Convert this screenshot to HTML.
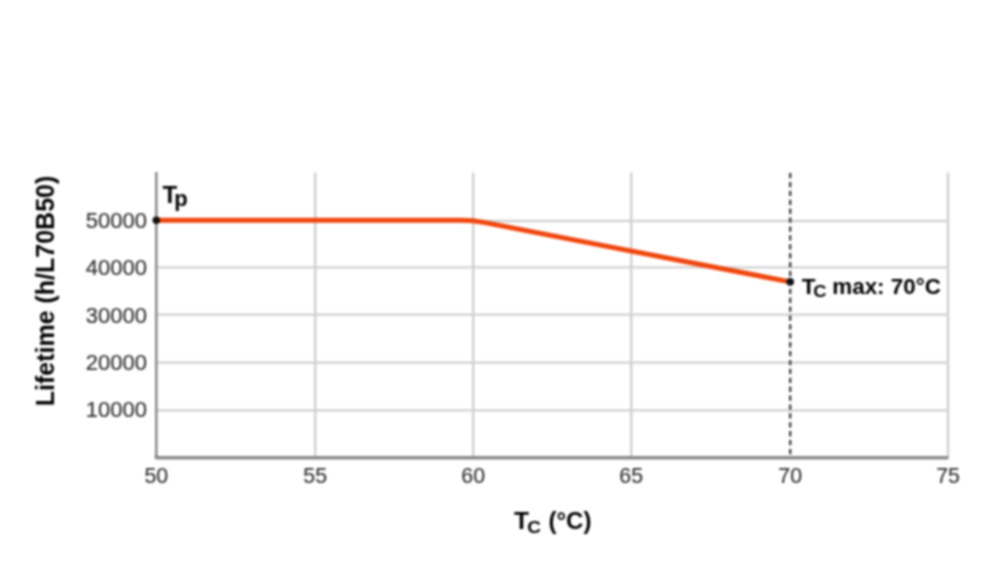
<!DOCTYPE html>
<html><head><meta charset="utf-8">
<style>
html,body{margin:0;padding:0;background:#fff;}
body{width:1000px;height:584px;overflow:hidden;position:relative;}
svg{position:absolute;left:0;top:0;filter:blur(1px);}
text{font-family:"Liberation Sans",sans-serif;}
</style></head><body>
<svg width="1000" height="584" viewBox="0 0 1000 584" xmlns="http://www.w3.org/2000/svg">
  <!-- horizontal gridlines -->
  <g stroke="#d2d2d2" stroke-width="2.3">
    <line x1="156" y1="410.3" x2="948" y2="410.3"/>
    <line x1="156" y1="362.6" x2="948" y2="362.6"/>
    <line x1="156" y1="314.7" x2="948" y2="314.7"/>
    <line x1="156" y1="267.3" x2="948" y2="267.3"/>
    <line x1="156" y1="221" x2="948" y2="221"/>
  </g>
  <!-- vertical gridlines -->
  <g stroke="#cfcfcf" stroke-width="2.4">
    <line x1="315.2" y1="172.5" x2="315.2" y2="457"/>
    <line x1="473.2" y1="172.5" x2="473.2" y2="457"/>
    <line x1="631.2" y1="172.5" x2="631.2" y2="457"/>
    <line x1="948" y1="172.5" x2="948" y2="457"/>
  </g>
  <!-- dashed line at 70 -->
  <line x1="790.2" y1="173" x2="790.2" y2="456" stroke="#3a3a3a" stroke-width="2.3" stroke-dasharray="5.3 3.6"/>
  <!-- axes -->
  <line x1="156.3" y1="172" x2="156.3" y2="456" stroke="#888" stroke-width="2.5"/>
  <path d="M156.3,455 V457.7 H948.5" fill="none" stroke="#8a8a8a" stroke-width="3.4" stroke-linejoin="round"/>
  <!-- data line -->
  <path d="M156.3,220.3 L461,220.3 Q473.2,220.3 485.2,222.64 L790.2,281.9" fill="none" stroke="#f0460e" stroke-width="5" stroke-linejoin="round"/>
  <circle cx="156.3" cy="220.3" r="3.8" fill="#111"/>
  <circle cx="790.2" cy="281.9" r="3.8" fill="#111"/>
  <!-- y tick labels -->
  <g font-size="22" fill="#333" stroke="#333" stroke-width="0.2" text-anchor="end" transform="translate(0.4,0)">
    <text x="146.5" y="227.5">50000</text>
    <text x="146.5" y="275">40000</text>
    <text x="146.5" y="322.5">30000</text>
    <text x="146.5" y="370">20000</text>
    <text x="146.5" y="417">10000</text>
  </g>
  <!-- x tick labels -->
  <g font-size="21.3" fill="#333" stroke="#333" stroke-width="0.2" text-anchor="middle" transform="translate(0,-0.2)">
    <text x="156.3" y="483.5">50</text>
    <text x="315.2" y="483.5">55</text>
    <text x="473.2" y="483.5">60</text>
    <text x="631.2" y="483.5">65</text>
    <text x="790.2" y="483.5">70</text>
    <text x="948" y="483.5">75</text>
  </g>
  <!-- axis titles -->
  <text transform="translate(53.5,291) rotate(-90)" text-anchor="middle" font-size="25" font-weight="bold" fill="#000">Lifetime (h/L70B50)</text>
  <g font-weight="bold" fill="#000">
    <text x="514" y="528.5" font-size="24.5">T</text>
    <text transform="translate(527.2,533.3) scale(1.15,1)" font-size="16.5">C</text>
    <text x="548.5" y="528.5" font-size="24">(°C)</text>
  </g>
  <!-- annotations -->
  <text x="162.5" y="202.8" font-size="24" font-weight="bold" fill="#000">T<tspan font-size="22" dx="-2.8" dy="3.2">p</tspan></text>
  <g font-weight="bold" fill="#000">
    <text x="801.7" y="293.5" font-size="22.5">T</text>
    <text transform="translate(813.3,297) scale(1.15,1)" font-size="16">C</text>
    <text x="832.3" y="293.5" font-size="22.4">max: 70°C</text>
  </g>
</svg>
</body></html>
